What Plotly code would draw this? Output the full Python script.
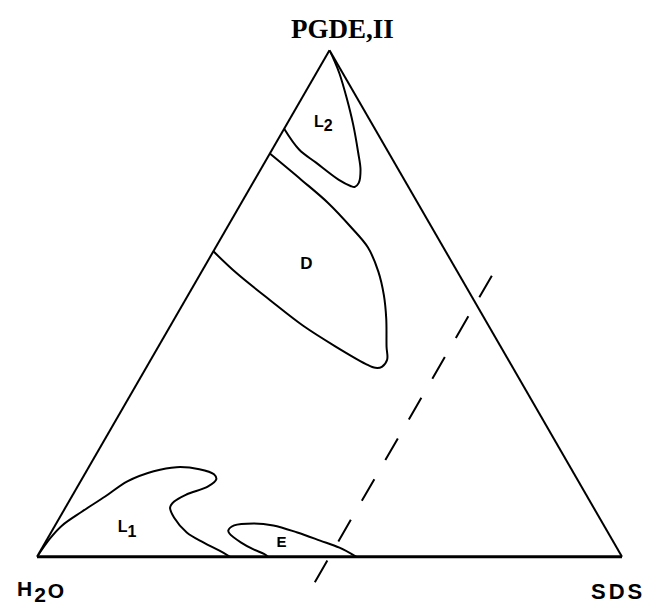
import math
import plotly.graph_objects as go

# Phase boundaries of the PGDE,II / H2O / SDS system, compositions in wt%.
# Each boundary is listed as (PGDE,II, H2O, SDS) triples.

# L2 (reversed micellar solution) near the PGDE,II corner
L2_PGDE = [100, 98.0, 95.4, 90.5, 85.3, 79.8, 76.4, 73.8, 73.0, 73.2, 74.4, 77.8, 80.4, 84.5]
L2_H2O = [0, 0.2, 0.6, 1.8, 3.3, 5.2, 6.5, 8.1, 9.2, 9.8, 11.2, 13.4, 15.0, 15.5]
L2_SDS = [0, 1.8, 4.0, 7.7, 11.4, 15.0, 17.1, 18.1, 17.8, 17.0, 14.4, 8.8, 4.6, 0]

# D (lamellar liquid crystal)
D_PGDE = [79.6, 74.4, 69.8, 65.1, 61.1, 56.3, 51.6, 47.0, 41.5, 38.9, 37.5, 37.3, 38.1,
          41.5, 45.6, 50.6, 56.0, 60.3]
D_H2O = [20.4, 17.6, 15.3, 13.8, 12.9, 13.5, 14.9, 16.8, 19.5, 20.7, 22.3, 23.5, 24.8,
         28.2, 31.7, 34.8, 37.9, 39.7]
D_SDS = [0, 8.0, 14.9, 21.1, 26.0, 30.2, 33.5, 36.2, 39.0, 40.4, 40.2, 39.2, 37.1,
         30.3, 22.7, 14.6, 6.1, 0]

# L1 (micellar solution) at the water corner
L1_PGDE = [0, 3.6, 6.2, 8.9, 11.9, 14.9, 16.9, 17.7, 17.3, 16.3, 15.3, 13.9, 12.3,
           10.9, 9.7, 7.7, 4.8, 2.8, 1.2, 0]
L1_H2O = [100, 96.0, 92.6, 87.9, 82.4, 77.1, 71.6, 67.3, 63.6, 61.6, 61.7, 63.8, 68.3,
          71.1, 72.4, 72.7, 72.0, 70.1, 68.2, 67.0]
L1_SDS = [0, 0.4, 1.2, 3.2, 5.7, 8.0, 11.5, 15.0, 19.1, 22.1, 23.0, 22.3, 19.4,
          18.0, 17.9, 19.6, 23.2, 27.1, 30.6, 33.0]

# E (hexagonal liquid crystal)
E_PGDE = [0, 1.8, 3.2, 4.8, 6.2, 6.6, 6.2, 5.2, 4.6, 2.8, 1.4, 0.6, 0]
E_H2O = [45.4, 47.4, 50.0, 53.1, 56.5, 59.6, 63.2, 64.7, 64.8, 63.7, 62.2, 60.9, 60.5]
E_SDS = [54.6, 50.8, 46.8, 42.1, 37.3, 33.8, 30.6, 30.1, 30.6, 33.5, 36.4, 38.5, 39.5]

# Line of constant SDS content (50 %), running past both triangle edges
CUT_PGDE = [55.5, -5.5]
CUT_H2O = [-5.5, 55.5]
CUT_SDS = [50, 50]

# Region labels (full-size subscripts)
FULL_SUB = "<sub style='font-size:100% !important'>{}</sub>"
LABEL_TEXT = ["L" + FULL_SUB.format(2), "D", "L" + FULL_SUB.format(1), "E"]
LABEL_PGDE = [85.7, 57.7, 5.6, 2.6]
LABEL_H2O = [8.2, 25.1, 81.8, 56.9]
LABEL_SDS = [6.1, 17.2, 12.6, 40.5]
LABEL_SIZE = [16, 17, 16, 15]

# Corner labels
CORNER_TOP = "<b>PGDE,II</b>"
CORNER_LEFT = "<span style='letter-spacing:2px'><b>H" + FULL_SUB.format(2) + "O</b></span>"
CORNER_RIGHT = "<span style='letter-spacing:3px'><b>SDS</b></span>"

WIDTH, HEIGHT = 648, 607
MARGIN = dict(l=37, r=26, t=50, b=20)
TERNARY_BOTTOM_PAD = 30  # px of plot area kept below the ternary domain

plot_w = WIDTH - MARGIN["l"] - MARGIN["r"]
plot_h = HEIGHT - MARGIN["t"] - MARGIN["b"]
dom_h = plot_h - TERNARY_BOTTOM_PAD
tri_h = plot_w * math.sqrt(3) / 2
unit = plot_w / 100.0  # px per composition percent along the base

# A cartesian layer shares the triangle's frame so the constant-SDS line can
# run outside the triangle (ternary subplots clip their lines).
y_top = ((dom_h - tri_h) / 2 + tri_h) / unit
y_bottom = y_top - plot_h / unit


def to_xy(a, b, c):
    s = [ai + bi + ci for ai, bi, ci in zip(a, b, c)]
    x = [100 * (ci + ai / 2) / si for ai, ci, si in zip(a, c, s)]
    y = [100 * ai * math.sqrt(3) / 2 / si for ai, si in zip(a, s)]
    return x, y


boundary = dict(color="black", width=2, shape="spline", smoothing=1)

fig = go.Figure()
for a, b, c in [(L2_PGDE, L2_H2O, L2_SDS), (D_PGDE, D_H2O, D_SDS),
                (L1_PGDE, L1_H2O, L1_SDS), (E_PGDE, E_H2O, E_SDS)]:
    fig.add_trace(go.Scatterternary(a=a, b=b, c=c, mode="lines", line=boundary,
                                    hoverinfo="skip"))

cut_x, cut_y = to_xy(CUT_PGDE, CUT_H2O, CUT_SDS)
fig.add_trace(go.Scatter(
    x=cut_x, y=cut_y, mode="lines", cliponaxis=False,
    line=dict(color="black", width=2, dash="25px,22px"), hoverinfo="skip"))

fig.add_trace(go.Scatterternary(
    a=LABEL_PGDE, b=LABEL_H2O, c=LABEL_SDS, mode="text", text=LABEL_TEXT,
    textfont=dict(family="Arial", size=LABEL_SIZE, color="black", weight="bold"),
    hoverinfo="skip"))

edge = dict(showticklabels=False, ticks="", showgrid=False, showline=True,
            linecolor="black", linewidth=2, title=dict(text=""))


def paper_x(px):
    return (px - MARGIN["l"]) / plot_w


def paper_y(py):
    return (HEIGHT - MARGIN["b"] - py) / plot_h


fig.update_layout(
    width=WIDTH, height=HEIGHT,
    margin=MARGIN,
    paper_bgcolor="white",
    plot_bgcolor="white",
    showlegend=False,
    xaxis=dict(domain=[0, 1], range=[0, 100], visible=False, fixedrange=True),
    yaxis=dict(domain=[0, 1], range=[y_bottom, y_top], visible=False, fixedrange=True),
    ternary=dict(
        sum=100,
        bgcolor="rgba(0,0,0,0)",
        domain=dict(x=[0, 1], y=[TERNARY_BOTTOM_PAD / plot_h, 1]),
        aaxis=dict(edge),
        baxis=dict(edge, linewidth=3),
        caxis=dict(edge),
    ),
    annotations=[
        dict(text=CORNER_TOP, xref="paper", yref="paper", x=paper_x(342), y=paper_y(29),
             xanchor="center", yanchor="middle", showarrow=False,
             font=dict(family="Liberation Serif", size=27, color="black")),
        dict(text=CORNER_LEFT, xref="paper", yref="paper", x=paper_x(41), y=paper_y(591),
             xanchor="center", yanchor="middle", showarrow=False,
             font=dict(family="Arial", size=21, color="black")),
        dict(text=CORNER_RIGHT, xref="paper", yref="paper", x=paper_x(618), y=paper_y(591),
             xanchor="center", yanchor="middle", showarrow=False,
             font=dict(family="Arial", size=22, color="black")),
    ],
)

fig.write_html("out.html", config={"displayModeBar": False})
